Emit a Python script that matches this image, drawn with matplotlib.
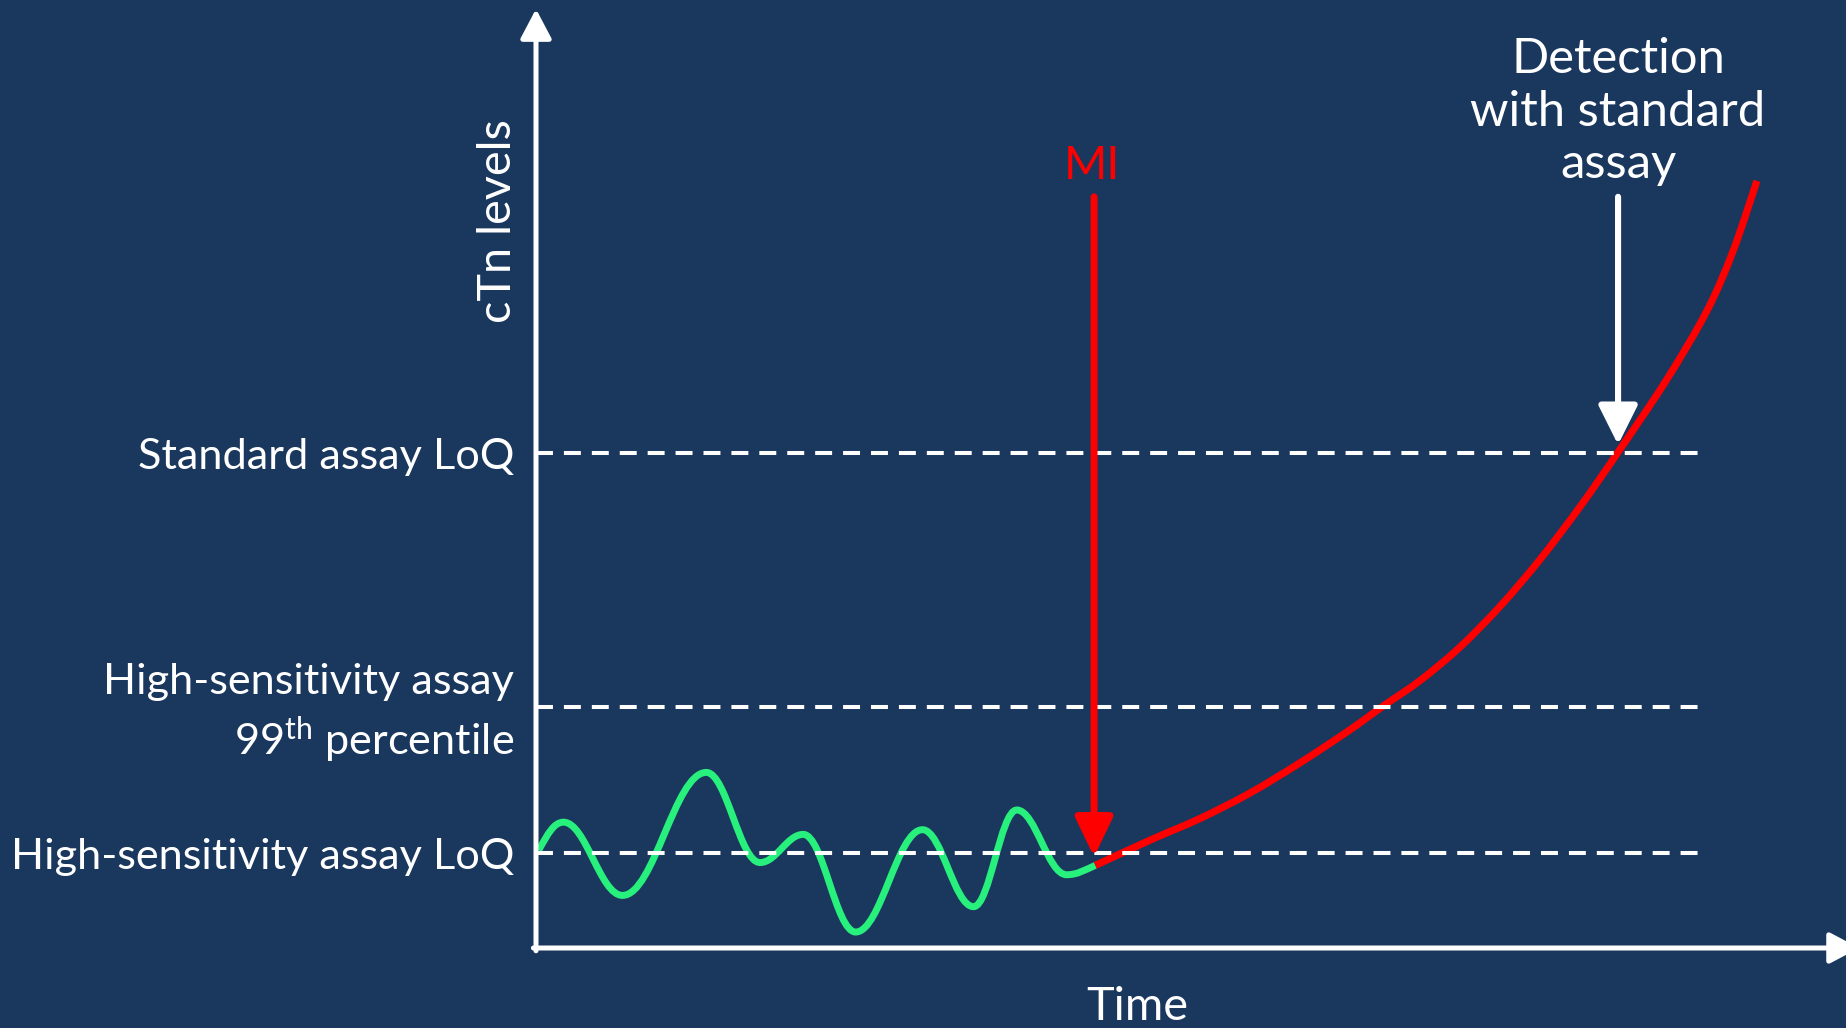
import matplotlib
matplotlib.use("Agg")
import matplotlib.pyplot as plt
from matplotlib.path import Path
from matplotlib.patches import PathPatch, FancyArrowPatch, ArrowStyle

# ---------------- data ----------------
# thresholds (cTn level units, 0..100 of the y axis)
level_names = ["Standard assay LoQ", "High-sensitivity assay\n99$^{\\mathrm{th}}$ percentile",
               "High-sensitivity assay LoQ"]
level_values = [52.7, 25.7, 10.1]
dash_end_time = 88.9

# baseline fluctuation before MI (extrema of the green trace)
green_time = [0.2, 2.1, 6.6, 13.0, 17.1, 20.4, 24.4, 29.5, 33.4, 36.7, 40.5, 42.7]
green_level = [10.4, 13.4, 5.6, 18.7, 9.1, 12.1, 1.7, 12.6, 4.4, 14.7, 7.8, 8.8]
green_start_slope = 2.5
green_end_slope = 0.6

# rise after MI (red trace)
red_time = [42.7, 46.9, 50.7, 54.5, 58.3, 62.1, 64.6, 67.5, 70.5, 73.6, 76.6,
            79.7, 82.6, 86.3, 89.4, 91.4, 93.2]
red_level = [8.8, 11.5, 13.8, 16.5, 19.7, 23.2, 25.7, 28.5, 32.0, 36.4, 41.3,
             47.0, 52.8, 60.5, 67.9, 74.3, 81.7]

mi_time = 42.6
mi_label = "MI"
detection_time = 82.6
detection_label = "Detection\nwith standard\nassay"
arrow_top_level = 80.0
x_label = "Time"
y_label = "cTn levels"

# ---------------- style ----------------
BG = "#1A375E"
GREEN = "#27F07D"
RED = "#FF0000"
WHITE = "#FFFFFF"
W, H, DPI = 1846, 1028, 100

plt.rcParams["font.family"] = ["Lato", "DejaVu Sans"]
plt.rcParams["mathtext.fontset"] = "custom"
plt.rcParams["mathtext.rm"] = "Lato"
plt.rcParams["mathtext.it"] = "Lato:italic"
plt.rcParams["mathtext.bf"] = "Lato:bold"
plt.rcParams["lines.scale_dashes"] = False

fig = plt.figure(figsize=(W / DPI, H / DPI), dpi=DPI, facecolor=BG)
ax = fig.add_axes([536 / W, (H - 948) / H, (W - 536) / W, (948 - 9) / H])
ax.set_facecolor(BG)
ax.set_xlim(0, 100)
ax.set_ylim(0, 100)
ax.axis("off")

# axes with arrow heads
ax_style = ArrowStyle("-|>", head_length=18, head_width=9.5)
ax.add_patch(FancyArrowPatch((0, -0.003), (0, 1), transform=ax.transAxes,
                             arrowstyle=ax_style, mutation_scale=1, lw=3.6,
                             color=WHITE, shrinkA=0, shrinkB=0, clip_on=False, zorder=6))
ax.add_patch(FancyArrowPatch((-0.002, 0), (1.01, 0), transform=ax.transAxes,
                             arrowstyle=ax_style, mutation_scale=1, lw=3.6,
                             color=WHITE, shrinkA=0, shrinkB=0, clip_on=False, zorder=6))

# dashed threshold lines
for lv in level_values:
    ax.plot([0, dash_end_time], [lv, lv], color=WHITE, lw=2.9,
            dashes=(12.2, 7.9), solid_capstyle="butt", dash_capstyle="butt", zorder=4)

# green baseline trace (smooth Bezier through the read extrema)
k = 0.38
pts = list(zip(green_time, green_level))
slopes = [green_start_slope] + [0.0] * (len(pts) - 2) + [green_end_slope]
verts = [pts[0]]
codes = [Path.MOVETO]
for i in range(len(pts) - 1):
    (x0, y0), (x1, y1) = pts[i], pts[i + 1]
    dx = x1 - x0
    verts += [(x0 + k * dx, y0 + slopes[i] * k * dx),
              (x1 - k * dx, y1 - slopes[i + 1] * k * dx),
              (x1, y1)]
    codes += [Path.CURVE4] * 3
ax.add_patch(PathPatch(Path(verts, codes), fill=False, edgecolor=GREEN, lw=5,
                       capstyle="butt", joinstyle="round", zorder=3))

# red rise (smooth Bezier through the read points, Catmull-Rom control points)
rp = list(zip(red_time, red_level))
rverts = [rp[0]]
rcodes = [Path.MOVETO]
n = len(rp)
for i in range(n - 1):
    p0 = rp[i - 1] if i > 0 else rp[i]
    p1, p2 = rp[i], rp[i + 1]
    p3 = rp[i + 2] if i + 2 < n else rp[i + 1]
    c1 = (p1[0] + (p2[0] - p0[0]) / 6, p1[1] + (p2[1] - p0[1]) / 6)
    c2 = (p2[0] - (p3[0] - p1[0]) / 6, p2[1] - (p3[1] - p1[1]) / 6)
    rverts += [c1, c2, p2]
    rcodes += [Path.CURVE4] * 3
ax.add_patch(PathPatch(Path(rverts, rcodes), fill=False, edgecolor=RED, lw=5.2,
                       capstyle="butt", joinstyle="round", zorder=3))

# MI arrow
ax.add_patch(FancyArrowPatch((mi_time, arrow_top_level), (mi_time, level_values[2] - 0.4),
                             arrowstyle=ArrowStyle("-|>", head_length=24, head_width=11.5),
                             mutation_scale=1, lw=5, color=RED, shrinkA=0, shrinkB=0, zorder=5))
# detection arrow
ax.add_patch(FancyArrowPatch((detection_time, arrow_top_level), (detection_time, level_values[0] + 0.9),
                             arrowstyle=ArrowStyle("-|>", head_length=24, head_width=12),
                             mutation_scale=1, lw=4.4, color=WHITE, shrinkA=0, shrinkB=0, zorder=5))

# ---------------- text ----------------
fig.canvas.draw()
renderer = fig.canvas.get_renderer()


def fit_width(t, target_px):
    w = t.get_window_extent(renderer).width
    t.set_fontsize(t.get_fontsize() * target_px / w)
    return t.get_fontsize()


probe = fig.text(0, 0, level_names[2], fontsize=30)
FS = fit_width(probe, 504)
probe.remove()
FS2 = FS * 1.08

lab_off = -15.8  # points left of the y axis
ax.annotate(level_names[0], xy=(0, level_values[0]), xycoords=("axes fraction", "data"),
            xytext=(lab_off, 0), textcoords="offset points", ha="right",
            va="center_baseline", color=WHITE, fontsize=FS)
l1, l2 = level_names[1].split("\n")
ax.annotate(l1, xy=(0, level_values[1]), xycoords=("axes fraction", "data"),
            xytext=(lab_off, 20.0), textcoords="offset points", ha="right",
            va="center_baseline", color=WHITE, fontsize=FS)
ax.annotate(l2, xy=(0, level_values[1]), xycoords=("axes fraction", "data"),
            xytext=(lab_off, -20.0), textcoords="offset points", ha="right",
            va="center_baseline", color=WHITE, fontsize=FS)
ax.annotate(level_names[2], xy=(0, level_values[2]), xycoords=("axes fraction", "data"),
            xytext=(lab_off, 0), textcoords="offset points", ha="right",
            va="center_baseline", color=WHITE, fontsize=FS)

fig.text(511 / W, 1 - 221 / H, y_label, rotation=90, rotation_mode="anchor",
         ha="center", va="baseline", color=WHITE, fontsize=FS2)
fig.text(1137 / W, 1 - 1003 / H, x_label, ha="center", va="center_baseline",
         color=WHITE, fontsize=FS2)
fig.text(1092 / W, 1 - 162 / H, mi_label, ha="center", va="center_baseline",
         color=RED, fontsize=FS2)

det_lines = detection_label.split("\n")
det_y = [55, 108, 160]
dets = []
for s, yy in zip(det_lines, det_y):
    dets.append(fig.text(1618 / W, 1 - yy / H, s, ha="center", va="center_baseline",
                         color=WHITE, fontsize=FS))
fs_det = fit_width(dets[1], 295)
for t in dets:
    t.set_fontsize(fs_det)

fig.savefig("out.png", dpi=DPI, facecolor=BG)
